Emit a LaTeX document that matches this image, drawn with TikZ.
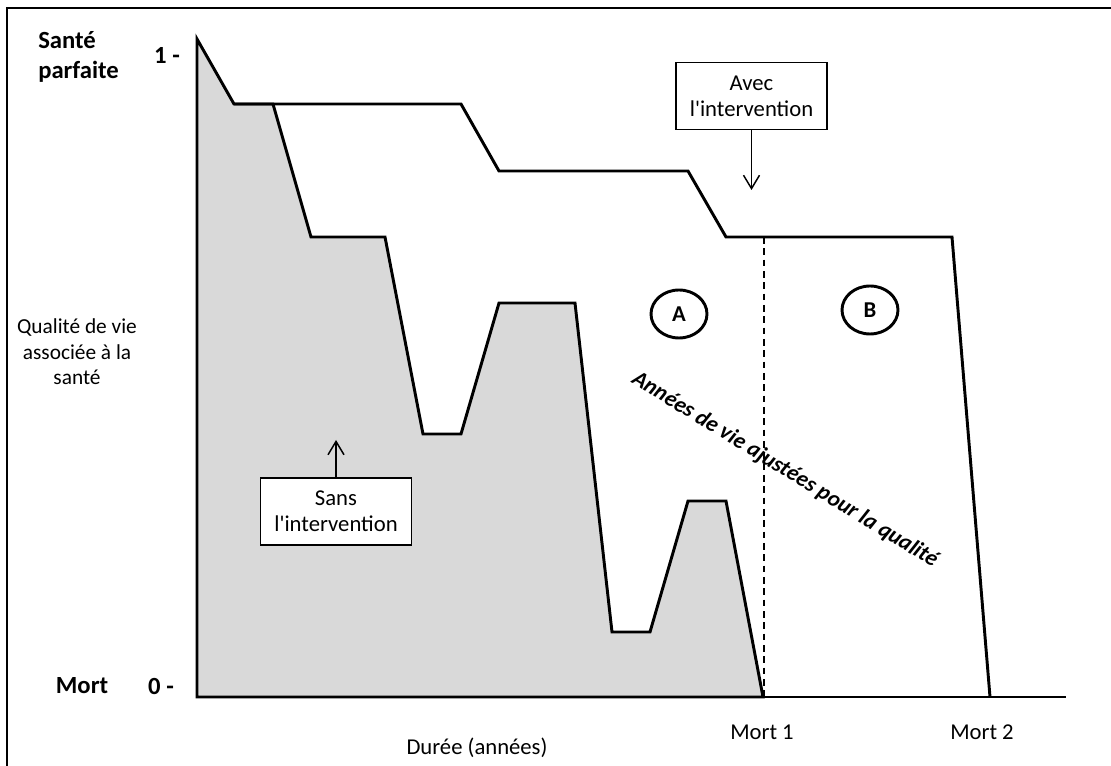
\documentclass[tikz,border=0pt]{standalone}
\usepackage{fontspec}
\setmainfont{Carlito}
\usetikzlibrary{arrows.meta,shapes.geometric}
\newcommand{\apos}{\textquotesingle}
\begin{document}
\begin{tikzpicture}[x=0.75pt,y=-0.75pt,
  curve/.style={line width=2.2pt, line join=miter},
  txt/.style={font=\fontsize{17}{19}\selectfont, inner sep=0pt, align=center},
  boldtxt/.style={font=\fontsize{18.5}{23}\selectfont\bfseries, inner sep=0pt},
  callout/.style={draw, line width=1.1pt, minimum width=113pt, minimum height=50pt,
    font=\fontsize{17}{19.5}\selectfont, align=center, inner sep=0pt, fill=white},
  pointer/.style={line width=1.1pt, -{Straight Barb[length=10pt,width=12pt,line width=1.1pt]}},
  zone/.style={draw, ellipse, line width=2.2pt, minimum width=42pt, minimum height=36pt,
    font=\fontsize{17}{19}\selectfont\bfseries, inner sep=0pt}]
\useasboundingbox (0,0) rectangle (1111,766);

% outer frame
\draw[line width=1.4pt] (7,766) -- (7,8) -- (1111,8);

% area under the curve without the intervention
\draw[curve, fill={rgb,255:red,217;green,217;blue,217}]
  (197,39) -- (234,104) -- (273,104) -- (311,237) -- (385,237) -- (423,434)
  -- (461,434) -- (499,303) -- (575,303) -- (612,632) -- (650,632)
  -- (688,501) -- (726,501) -- (763,697) -- (197,697) -- cycle;

% time axis
\draw[curve] (197,697) -- (1066,697);

% first death marker
\draw[line width=1.1pt, dash pattern=on 5pt off 3.5pt] (764,237) -- (764,697);

% curve with the intervention
\draw[curve] (234,104) -- (461,104) -- (499,171) -- (688,171) -- (726,237)
  -- (952,237) -- (990,697);

% axis labels
\node[boldtxt, anchor=west, align=left] (top) at (38,57) {Santé\\parfaite};
\node[boldtxt] (one) at (167,55) {1 -};
\node[boldtxt] (death) at (82,686) {Mort};
\node[boldtxt] (zero) at (161,686) {0 -};
\node[txt, font=\fontsize{16}{19.2}\selectfont] (qol) at (77,352) {Qualité de vie\\associée à la\\santé};
\node[txt] (m1) at (762,732) {Mort 1};
\node[txt] (m2) at (982,732) {Mort 2};
\node[txt] (dur) at (477,748) {Durée (années)};

% zones
\node[zone] (A) at (679,314) {A};
\node[zone] (B) at (870,310) {B};

% rotated label across the gap
\node[font=\fontsize{17}{19}\selectfont\bfseries\itshape, inner sep=0pt, rotate=-31.5]
  (qaly) at (785,470) {Années de vie ajustées pour la qualité};

% callouts
\node[callout] (avec) at (751.5,96) {Avec\\l\apos intervention};
\coordinate (avecTip) at (751.5,190);
\draw[pointer] (avec.south) -- (avecTip);

\node[callout] (sans) at (336,511.5) {Sans\\l\apos intervention};
\coordinate (sansTip) at (336,440);
\draw[pointer] (sans.north) -- (sansTip);
\end{tikzpicture}
\end{document}
